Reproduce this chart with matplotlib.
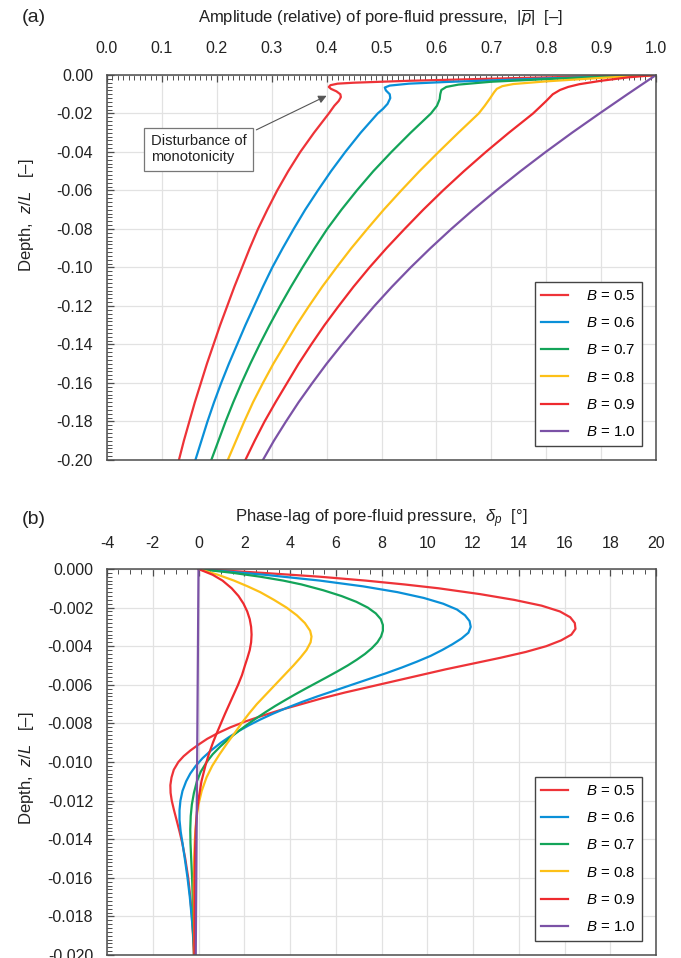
import matplotlib
matplotlib.use('Agg')
import matplotlib.pyplot as plt
from matplotlib.ticker import MultipleLocator, FormatStrFormatter

plt.rcParams['font.family'] = ['Liberation Sans', 'DejaVu Sans']
plt.rcParams['mathtext.fontset'] = 'custom'
plt.rcParams['mathtext.rm'] = 'Liberation Sans'
plt.rcParams['mathtext.it'] = 'Liberation Sans:italic'
plt.rcParams['mathtext.bf'] = 'Liberation Sans:bold'
plt.rcParams['axes.unicode_minus'] = False

# ---------------- data ----------------
B_values = ['0.5', '0.6', '0.7', '0.8', '0.9', '1.0']
colors = ['#EE3338', '#0A90D8', '#13A459', '#FDC017', '#EE2A2E', '#7B52A6']

lower_z = [-0.03, -0.04, -0.05, -0.06, -0.07, -0.08, -0.09, -0.10, -0.11, -0.12,
           -0.13, -0.14, -0.15, -0.16, -0.17, -0.18, -0.19, -0.20]

# (a) amplitude vs depth
amp_z_05 = [0, -0.0015, -0.0030, -0.0035, -0.0040, -0.0045, -0.0053, -0.0062, -0.0072, -0.0085,
            -0.0100, -0.0115, -0.0135, -0.0160, -0.02] + lower_z
amp_05 = [1.0, 0.76, 0.55, 0.50, 0.45, 0.42, 0.407, 0.404, 0.408, 0.418,
          0.425, 0.426, 0.422, 0.414, 0.404,
          0.377, 0.352, 0.330, 0.310, 0.292, 0.275, 0.260, 0.246, 0.232, 0.219,
          0.206, 0.194, 0.182, 0.171, 0.160, 0.150, 0.140, 0.131]

amp_z_06 = [0, -0.0018, -0.0036, -0.0045, -0.0055, -0.0065, -0.0080, -0.0100, -0.0120, -0.0150,
            -0.0175, -0.02] + lower_z
amp_06 = [1.0, 0.80, 0.62, 0.55, 0.515, 0.506, 0.508, 0.515, 0.516, 0.511,
          0.503, 0.493,
          0.462, 0.434, 0.408, 0.384, 0.361, 0.340, 0.320, 0.301, 0.284, 0.268,
          0.252, 0.237, 0.222, 0.208, 0.195, 0.183, 0.172, 0.161]

amp_z_07 = [0, -0.0015, -0.0035, -0.0050, -0.0062, -0.0078, -0.0100, -0.0125, -0.0160, -0.02] + lower_z
amp_07 = [1.0, 0.85, 0.70, 0.64, 0.618, 0.609, 0.607, 0.606, 0.601, 0.590,
          0.553, 0.518, 0.485, 0.455, 0.427, 0.401, 0.378, 0.356, 0.335, 0.315,
          0.296, 0.278, 0.261, 0.245, 0.230, 0.216, 0.203, 0.190]

amp_z_08 = [0, -0.0015, -0.0033, -0.0047, -0.0058, -0.0072, -0.0090, -0.0120, -0.0160, -0.02] + lower_z
amp_08 = [1.0, 0.90, 0.80, 0.74, 0.72, 0.71, 0.705, 0.698, 0.688, 0.677,
          0.640, 0.604, 0.569, 0.536, 0.504, 0.474, 0.445, 0.418, 0.392, 0.368,
          0.345, 0.324, 0.303, 0.284, 0.266, 0.250, 0.235, 0.220]

amp_z_09 = [0, -0.0012, -0.0030, -0.0048, -0.0062, -0.0078, -0.0100, -0.0135, -0.0165, -0.02] + lower_z
amp_09 = [1.0, 0.95, 0.90, 0.86, 0.84, 0.825, 0.812, 0.800, 0.789, 0.776,
          0.732, 0.690, 0.650, 0.612, 0.576, 0.542, 0.509, 0.478, 0.449, 0.422,
          0.396, 0.372, 0.349, 0.328, 0.307, 0.287, 0.269, 0.252]

amp_z_10 = [0, -0.01, -0.02] + lower_z
amp_10 = [1.0, 0.948, 0.897,
          0.847, 0.799, 0.753, 0.709, 0.667, 0.627, 0.589, 0.553, 0.519, 0.487,
          0.457, 0.428, 0.400, 0.374, 0.349, 0.326, 0.304, 0.284]

# (b) phase lag vs depth
ph_z_05 = [0, -0.0002, -0.0004, -0.0006, -0.0008, -0.0010, -0.0013, -0.0016, -0.0019, -0.0022,
           -0.0025, -0.0028, -0.0031, -0.0034, -0.0037, -0.0040, -0.0043, -0.0046, -0.0049, -0.0052,
           -0.0055, -0.0058, -0.0061, -0.0064, -0.0067, -0.0070, -0.0073, -0.0076, -0.0079, -0.0082,
           -0.0085, -0.0088, -0.0091, -0.0094, -0.0097, -0.0100, -0.0104, -0.0108, -0.0112, -0.0116,
           -0.0120, -0.0125, -0.0130, -0.0136, -0.0142, -0.0150, -0.0160, -0.0170, -0.0180, -0.0190,
           -0.0200]
ph_05 = [0, 2.8, 5.3, 7.3, 9.0, 10.5, 12.3, 13.8, 15.0, 15.8,
         16.25, 16.45, 16.48, 16.3, 15.85, 15.2, 14.3, 13.2, 12.0, 10.8,
         9.7, 8.6, 7.5, 6.4, 5.4, 4.5, 3.6, 2.8, 2.05, 1.4,
         0.85, 0.38, 0.0, -0.35, -0.65, -0.88, -1.08, -1.18, -1.23, -1.22,
         -1.17, -1.07, -0.96, -0.83, -0.71, -0.58, -0.45, -0.36, -0.29, -0.24,
         -0.20]

ph_z_06 = [0, -0.0003, -0.0006, -0.0009, -0.0012, -0.0015, -0.0018, -0.0021, -0.0024, -0.0027,
           -0.0030, -0.0033, -0.0036, -0.0039, -0.0042, -0.0045, -0.0048, -0.0051, -0.0054, -0.0057,
           -0.0060, -0.0063, -0.0066, -0.0069, -0.0072, -0.0075, -0.0078, -0.0081, -0.0084, -0.0087,
           -0.0090, -0.0094, -0.0098, -0.0102, -0.0106, -0.0110, -0.0115, -0.0120, -0.0125, -0.0130,
           -0.0136, -0.0142, -0.0150, -0.0160, -0.0170, -0.0180, -0.0190, -0.0200]
ph_06 = [0, 2.9, 5.3, 7.2, 8.7, 9.85, 10.7, 11.3, 11.65, 11.85,
         11.9, 11.8, 11.5, 11.1, 10.65, 10.15, 9.55, 8.9, 8.2, 7.45,
         6.7, 5.95, 5.2, 4.5, 3.85, 3.25, 2.7, 2.2, 1.75, 1.35,
         0.98, 0.55, 0.18, -0.12, -0.36, -0.54, -0.70, -0.79, -0.83, -0.83,
         -0.78, -0.70, -0.60, -0.48, -0.38, -0.30, -0.23, -0.17]

ph_z_07 = [0, -0.0002, -0.0004, -0.0006, -0.0008, -0.0011, -0.0014, -0.0017, -0.0020, -0.0023,
           -0.0026, -0.0029, -0.0032, -0.0035, -0.0038, -0.0041, -0.0044, -0.0047, -0.0050, -0.0053,
           -0.0056, -0.0059, -0.0062, -0.0065, -0.0068, -0.0071, -0.0074, -0.0077, -0.0080, -0.0084,
           -0.0088, -0.0092, -0.0096, -0.0100, -0.0105, -0.0110, -0.0116, -0.0122, -0.0128, -0.0135,
           -0.0142, -0.0150, -0.0160, -0.0175, -0.0190, -0.0200]
ph_07 = [0, 1.5, 2.7, 3.7, 4.5, 5.45, 6.25, 6.9, 7.4, 7.75,
         7.97, 8.06, 8.06, 7.98, 7.82, 7.58, 7.28, 6.92, 6.52, 6.08,
         5.62, 5.15, 4.68, 4.22, 3.78, 3.35, 2.95, 2.57, 2.2, 1.75,
         1.32, 0.95, 0.62, 0.36, 0.10, -0.07, -0.20, -0.29, -0.34, -0.36,
         -0.35, -0.32, -0.28, -0.24, -0.21, -0.20]

ph_z_08 = [0, -0.0003, -0.0006, -0.0009, -0.0012, -0.0016, -0.0020, -0.0024, -0.0028, -0.0032,
           -0.0035, -0.0038, -0.0042, -0.0046, -0.0050, -0.0055, -0.0060, -0.0065, -0.0070, -0.0075,
           -0.0080, -0.0085, -0.0090, -0.0096, -0.0102, -0.0108, -0.0115, -0.0122, -0.0130, -0.0140,
           -0.0150, -0.0165, -0.0180, -0.0200]
ph_08 = [0, 0.85, 1.55, 2.15, 2.7, 3.3, 3.85, 4.3, 4.65, 4.88,
         4.94, 4.9, 4.72, 4.45, 4.15, 3.75, 3.35, 2.95, 2.55, 2.2,
         1.88, 1.58, 1.27, 0.92, 0.60, 0.35, 0.14, 0.0, -0.10, -0.16,
         -0.19, -0.21, -0.20, -0.17]

ph_z_09 = [0, -0.0003, -0.0006, -0.0010, -0.0014, -0.0018, -0.0022, -0.0026, -0.0030, -0.0034,
           -0.0038, -0.0042, -0.0046, -0.0050, -0.0055, -0.0060, -0.0065, -0.0070, -0.0075, -0.0080,
           -0.0085, -0.0090, -0.0096, -0.0102, -0.0110, -0.0118, -0.0126, -0.0135, -0.0145, -0.0160,
           -0.0180, -0.0200]
ph_09 = [0, 0.62, 1.05, 1.45, 1.75, 1.97, 2.13, 2.24, 2.30, 2.32,
         2.30, 2.24, 2.14, 2.03, 1.90, 1.73, 1.54, 1.35, 1.16, 0.98,
         0.80, 0.63, 0.45, 0.30, 0.13, 0.02, -0.07, -0.12, -0.15, -0.17,
         -0.18, -0.18]

ph_z_10 = [0, -0.005, -0.010, -0.015, -0.020]
ph_10 = [0, -0.03, -0.06, -0.09, -0.12]

amp_series = [(amp_05, amp_z_05), (amp_06, amp_z_06), (amp_07, amp_z_07),
              (amp_08, amp_z_08), (amp_09, amp_z_09), (amp_10, amp_z_10)]
ph_series = [(ph_05, ph_z_05), (ph_06, ph_z_06), (ph_07, ph_z_07),
             (ph_08, ph_z_08), (ph_09, ph_z_09), (ph_10, ph_z_10)]

# ---------------- figure ----------------
W, H = 681, 958
fig = plt.figure(figsize=(W / 100, H / 100), dpi=100)

spine_c = '#4d4d4d'
grid_c = '#e2e2e2'
txt_c = '#222222'


def style_axes(ax, xpad):
    ax.set_axisbelow(True)
    ax.grid(which='major', color=grid_c, lw=0.9)
    ax.xaxis.tick_top()
    ax.xaxis.set_label_position('top')
    ax.tick_params(which='both', direction='in', top=True, bottom=False,
                   left=True, right=False, color=spine_c, labelcolor=txt_c)
    ax.tick_params(which='major', length=5, width=0.9, labelsize=11.5)
    ax.tick_params(axis='x', which='major', pad=xpad)
    ax.tick_params(axis='y', which='major', pad=10)
    ax.tick_params(which='minor', length=3.5, width=0.7)
    for s in ax.spines.values():
        s.set_color(spine_c)
        s.set_linewidth(1.1)


def px_axes(l, r, t, b):
    return [l / W, 1 - b / H, (r - l) / W, (b - t) / H]


def add_legend(ax):
    leg = ax.legend(loc='lower right', fontsize=10.8, frameon=True, fancybox=False,
                    edgecolor='#444444', framealpha=1, borderaxespad=0.95,
                    handlelength=1.75, handletextpad=1.2, labelspacing=0.88,
                    borderpad=0.45)
    leg.get_frame().set_linewidth(1.0)
    return leg


# ---- panel (a) ----
ax1 = fig.add_axes(px_axes(107, 656, 75, 460))
for (xs, zs), c, lab in zip(amp_series, colors, B_values):
    ax1.plot(xs, zs, color=c, lw=1.6, label=f'$B$ = {lab}', solid_joinstyle='round')
ax1.set_xlim(0, 1)
ax1.set_ylim(-0.2, 0)
ax1.xaxis.set_major_locator(MultipleLocator(0.1))
ax1.xaxis.set_minor_locator(MultipleLocator(0.01))
ax1.yaxis.set_major_locator(MultipleLocator(0.02))
ax1.yaxis.set_minor_locator(MultipleLocator(0.002))
ax1.xaxis.set_major_formatter(FormatStrFormatter('%.1f'))
ax1.yaxis.set_major_formatter(FormatStrFormatter('%.2f'))
style_axes(ax1, 14)
add_legend(ax1)

ax1.annotate('', xy=(0.400, -0.0108), xytext=(0.272, -0.0285),
             arrowprops=dict(arrowstyle='-|>', color='#555555', lw=0.8,
                             mutation_scale=12, shrinkA=0, shrinkB=0))
ax1.text(0.080, -0.0385, 'Disturbance of\nmonotonicity', fontsize=10.6, color=txt_c,
         ha='left', va='center', linespacing=1.15,
         bbox=dict(boxstyle='square,pad=0.45', fc='white', ec='#777777', lw=0.9))

fig.text(22 / W, 1 - 18 / H, '(a)', fontsize=14, color=txt_c, ha='left', va='center')
fig.text(381 / W, 1 - 18 / H,
         r'Amplitude (relative) of pore-fluid pressure,  $|\overline{p}|$  [–]',
         fontsize=12, color=txt_c, ha='center', va='center')
fig.text(27 / W, 1 - 215 / H, r'Depth,  $z/L$   [–]', fontsize=12, color=txt_c,
         ha='center', va='center', rotation=90)

# ---- panel (b) ----
ax2 = fig.add_axes(px_axes(107, 656, 569, 955))
for (xs, zs), c, lab in zip(ph_series, colors, B_values):
    ax2.plot(xs, zs, color=c, lw=1.6, label=f'$B$ = {lab}', solid_joinstyle='round')
ax2.set_xlim(-4, 20)
ax2.set_ylim(-0.02, 0)
ax2.xaxis.set_major_locator(MultipleLocator(2))
ax2.xaxis.set_minor_locator(MultipleLocator(0.5))
ax2.yaxis.set_major_locator(MultipleLocator(0.002))
ax2.yaxis.set_minor_locator(MultipleLocator(0.0002))
ax2.xaxis.set_major_formatter(FormatStrFormatter('%d'))
ax2.yaxis.set_major_formatter(FormatStrFormatter('%.3f'))
style_axes(ax2, 13)
add_legend(ax2)

fig.text(22 / W, 1 - 520 / H, '(b)', fontsize=14, color=txt_c, ha='left', va='center')
fig.text(381 / W, 1 - 519 / H,
         r'Phase-lag of pore-fluid pressure,  $\delta_p$  [°]',
         fontsize=12, color=txt_c, ha='center', va='center')
fig.text(27 / W, 1 - 768 / H, r'Depth,  $z/L$   [–]', fontsize=12, color=txt_c,
         ha='center', va='center', rotation=90)

fig.savefig('out.png', dpi=100)
